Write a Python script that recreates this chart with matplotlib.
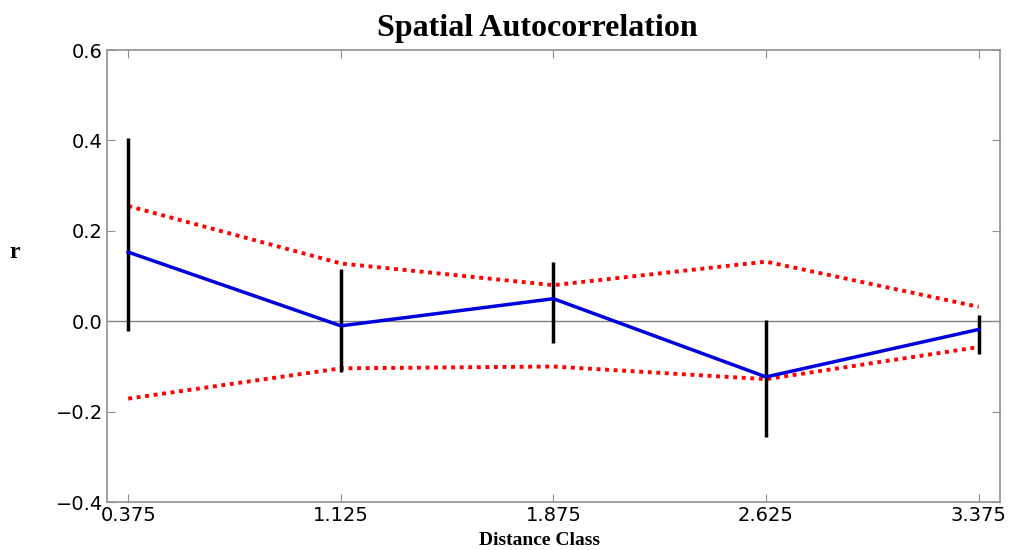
import matplotlib
matplotlib.use("Agg")
import matplotlib.pyplot as plt

# Distance classes and correlogram values
distance_class = [0.375, 1.125, 1.875, 2.625, 3.375]
r_values = [0.153, -0.010, 0.050, -0.123, -0.018]
err_upper = [0.406, 0.116, 0.132, 0.002, 0.014]
err_lower = [-0.021, -0.112, -0.049, -0.256, -0.073]
conf_upper = [0.255, 0.128, 0.080, 0.132, 0.032]
conf_lower = [-0.171, -0.104, -0.100, -0.128, -0.057]

serif = ["Liberation Serif", "DejaVu Serif"]

fig = plt.figure(figsize=(10.09, 5.5), dpi=100)
ax = fig.add_axes([0.106, 0.087, 0.885, 0.822])

ax.axhline(0.0, color="#808080", lw=1.0, zorder=1)

# bootstrap error bars (black vertical lines, no caps)
ax.vlines(distance_class, err_lower, err_upper, colors="black", lw=2.5, zorder=3)

# confidence envelope
ax.plot(distance_class, conf_upper, color="#ff0000", ls=(0, (1, 1.2)), lw=2.8, zorder=2)
ax.plot(distance_class, conf_lower, color="#ff0000", ls=(0, (1, 1.2)), lw=2.8, zorder=2)

# r
ax.plot(distance_class, r_values, color="#0000dd", lw=2.5, zorder=4)

ax.set_xlim(0.3, 3.45)
ax.set_ylim(-0.4, 0.6)
ax.set_xticks(distance_class)
ax.set_xticklabels([f"{v:.3f}" for v in distance_class])
ax.set_yticks([-0.4, -0.2, 0.0, 0.2, 0.4, 0.6])
ax.set_yticklabels(["\u22120.4", "\u22120.2", "0.0", "0.2", "0.4", "0.6"])

ax.tick_params(direction="in", top=True, right=True, length=6,
               color="#909090", labelsize=14, pad=3)
for sp in ax.spines.values():
    sp.set_color("#909090")
    sp.set_linewidth(1.2)

# title and x label sit a bit left of the axes centre in the original
ax.set_title("Spatial Autocorrelation", fontsize=23, fontweight="bold",
             family=serif, pad=10, x=0.482)
ax.set_xlabel("Distance Class", fontsize=14, fontweight="bold", family=serif,
              labelpad=5)
ax.xaxis.set_label_coords(0.484, -0.065)
ax.set_ylabel("r", fontsize=17, fontweight="bold", family=serif, rotation=0)
ax.yaxis.set_label_coords(-0.103, 0.53)

fig.savefig("out.png", dpi=100)
